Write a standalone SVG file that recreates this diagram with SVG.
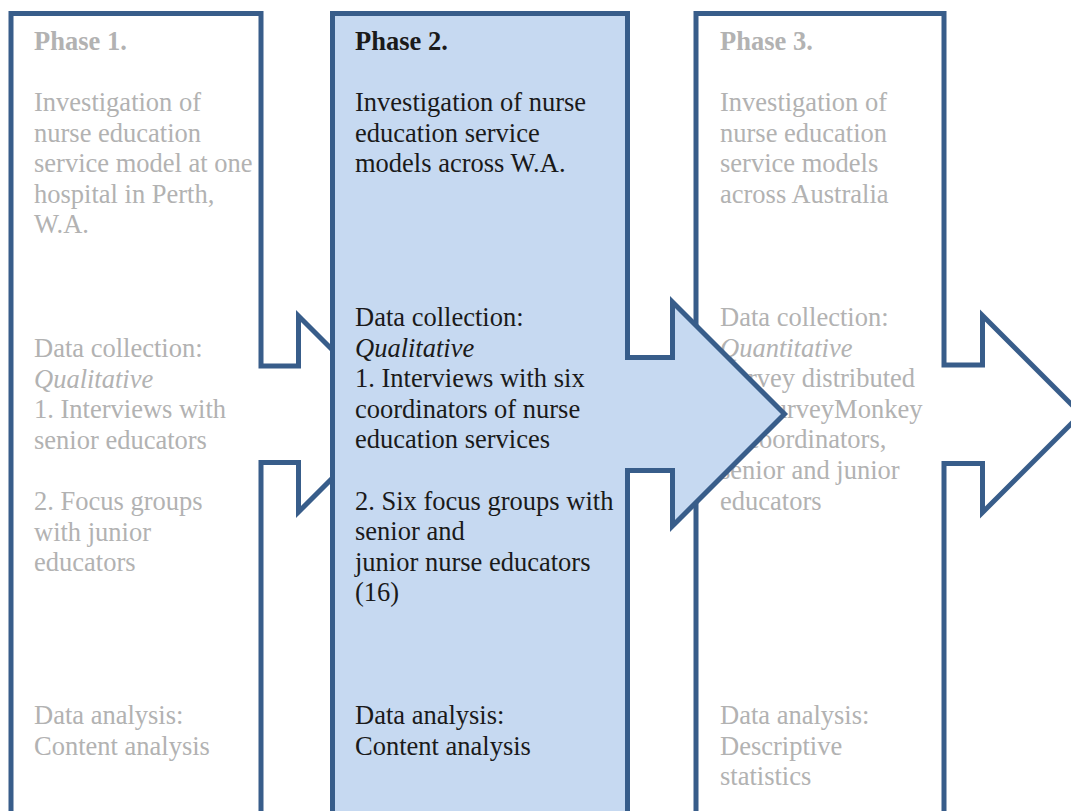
<svg xmlns="http://www.w3.org/2000/svg" width="1071" height="811" viewBox="0 0 1071 811">
  <style>
    .shape { stroke: #385d8a; stroke-width: 5; stroke-linejoin: miter; }
    .plain { fill: #ffffff; }
    .active { fill: #c6d9f1; }
    text { font-family: "Liberation Serif", "Times New Roman", serif; font-size: 26.5px; }
    .dim { fill: #b2b2b2; }
    .dark { fill: #1a1a1a; }
    .head { font-weight: bold; }
    .it { font-style: italic; }
  </style>

  <!-- Phase 1: outlined column with a notched arrow on its right side -->
  <g id="phase1">
    <path class="shape plain" d="M11,13.5 H261 V366 H298.5 V316 L396.5,414 L298.5,512 V462.5 H261 V840 H11 Z"/>
    <text class="dim">
      <tspan class="head" x="34" y="50">Phase 1.</tspan>
      <tspan x="34" y="111">Investigation of</tspan>
      <tspan x="34" y="141.6">nurse education</tspan>
      <tspan x="34" y="172.2">service model at one</tspan>
      <tspan x="34" y="202.8">hospital in Perth,</tspan>
      <tspan x="34" y="233.4">W.A.</tspan>
      <tspan x="34" y="357">Data collection:</tspan>
      <tspan class="it" x="34" y="387.6">Qualitative</tspan>
      <tspan x="34" y="418.2">1. Interviews with</tspan>
      <tspan x="34" y="448.8">senior educators</tspan>
      <tspan x="34" y="510">2. Focus groups</tspan>
      <tspan x="34" y="540.6">with junior</tspan>
      <tspan x="34" y="571.2">educators</tspan>
      <tspan x="34" y="724">Data analysis:</tspan>
      <tspan x="34" y="754.6">Content analysis</tspan>
    </text>
  </g>

  <!-- Phase 3: outlined column, arrow runs off the right edge -->
  <g id="phase3">
    <path class="shape plain" d="M696,13.5 H944 V365 H982.5 V315.5 L1081,414 L982.5,512.5 V463.5 H944 V840 H696 Z"/>
    <text class="dim">
      <tspan class="head" x="720" y="50">Phase 3.</tspan>
      <tspan x="720" y="111">Investigation of</tspan>
      <tspan x="720" y="141.6">nurse education</tspan>
      <tspan x="720" y="172.2">service models</tspan>
      <tspan x="720" y="202.8">across Australia</tspan>
      <tspan x="720" y="326">Data collection:</tspan>
      <tspan class="it" x="720" y="356.6">Quantitative</tspan>
      <tspan x="720" y="387.2">Survey distributed</tspan>
      <tspan x="720" y="417.8">via SurveyMonkey</tspan>
      <tspan x="720" y="448.4">to coordinators,</tspan>
      <tspan x="720" y="479">senior and junior</tspan>
      <tspan x="720" y="509.6">educators</tspan>
      <tspan x="720" y="724">Data analysis:</tspan>
      <tspan x="720" y="754.6">Descriptive</tspan>
      <tspan x="720" y="785.2">statistics</tspan>
    </text>
  </g>

  <!-- Phase 2: highlighted column, drawn last so its arrow overlaps Phase 3 -->
  <g id="phase2">
    <path class="shape active" d="M332.5,13.5 H627.5 V357.5 H672.5 V302 L784.5,414 L672.5,526 V470.5 H627.5 V840 H332.5 Z"/>
    <text class="dark">
      <tspan class="head" x="355" y="50">Phase 2.</tspan>
      <tspan x="355" y="111">Investigation of nurse</tspan>
      <tspan x="355" y="141.6">education service</tspan>
      <tspan x="355" y="172.2">models across W.A.</tspan>
      <tspan x="355" y="326">Data collection:</tspan>
      <tspan class="it" x="355" y="356.6">Qualitative</tspan>
      <tspan x="355" y="387.2">1. Interviews with six</tspan>
      <tspan x="355" y="417.8">coordinators of nurse</tspan>
      <tspan x="355" y="448.4">education services</tspan>
      <tspan x="355" y="509.6">2. Six focus groups with</tspan>
      <tspan x="355" y="540.2">senior and</tspan>
      <tspan x="355" y="570.8">junior nurse educators</tspan>
      <tspan x="355" y="601.4">(16)</tspan>
      <tspan x="355" y="724">Data analysis:</tspan>
      <tspan x="355" y="754.6">Content analysis</tspan>
    </text>
  </g>
</svg>
